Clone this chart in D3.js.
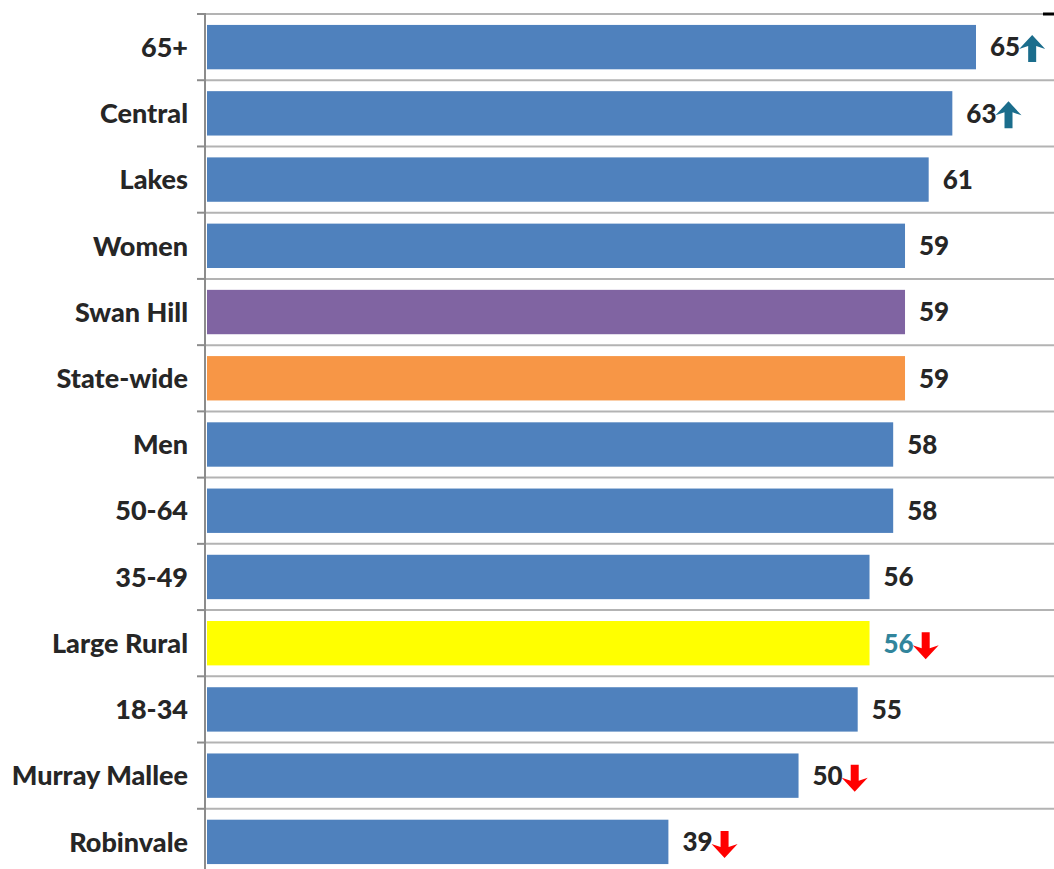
<!DOCTYPE html>
<html>
<head>
<meta charset="utf-8">
<script src="https://cdn.jsdelivr.net/npm/d3@7"></script>
<style>
  body { margin: 0; background: #fff; }
  svg { display: block; }
</style>
</head>
<body>
<div id="chart"></div>
<script>
var margin = { top: 14, right: 0, bottom: 0, left: 206 },
    width = 1054 - margin.left - margin.right,
    height = 875 - margin.top - margin.bottom;

// chart data
const categories = ["65+", "Central", "Lakes", "Women", "Swan Hill", "State-wide", "Men",
    "50-64", "35-49", "Large Rural", "18-34", "Murray Mallee", "Robinvale"];
const values = [65, 63, 61, 59, 59, 59, 58, 58, 56, 56, 55, 50, 39];
// trend arrow per row: "up", "down" or ""
const trends = ["up", "up", "", "", "", "", "", "", "", "down", "", "down", "down"];
const barColors = {
    "Swan Hill": "#8064a2",
    "State-wide": "#f79646",
    "Large Rural": "#ffff00"
};

let svg = d3.select("#chart").append("svg")
    .attr("width", 1054)
    .attr("height", 869)
    .append("g")
    .attr("transform", "translate(" + margin.left + "," + margin.top + ")")

let x = d3.scaleLinear()
    .domain([0, 65])
    .range([0, 769]);

let y = d3.scaleBand()
    .domain(categories)
    .range([0, height])
    .paddingInner(0.33)
    .paddingOuter(0.165);

// horizontal gridlines at category boundaries
let step = y.step();
let lines = d3.range(categories.length + 1).map(i => i * step);

svg.append("g")
    .selectAll("line")
    .data(lines)
    .enter()
    .append("line")
    .attr("x1", 0)
    .attr("x2", width)
    .attr("y1", d => d)
    .attr("y2", d => d)
    .attr("stroke", "#b3b3b3")
    .attr("stroke-width", 2)

// left ticks
svg.append("g")
    .selectAll("line")
    .data(lines)
    .enter()
    .append("line")
    .attr("x1", -9)
    .attr("x2", 0)
    .attr("y1", d => d)
    .attr("y2", d => d)
    .attr("stroke", "#8c8c8c")
    .attr("stroke-width", 2)

// axis line
svg.append("line")
    .attr("x1", -1).attr("x2", -1)
    .attr("y1", 0).attr("y2", height)
    .attr("stroke", "#8c8c8c")
    .attr("stroke-width", 2)

// little black tick top right
svg.append("line")
    .attr("x1", width - 11).attr("x2", width)
    .attr("y1", 0).attr("y2", 0)
    .attr("stroke", "#000")
    .attr("stroke-width", 3)

svg.append("g")
    .selectAll("rect")
    .data(values)
    .enter()
    .append("rect")
    .attr("x", x(0) + 1)
    .attr("y", (d, i) => y(categories[i]))
    .attr("width", d => x(d) - x(0))
    .attr("height", y.bandwidth())
    .attr("fill", (d, i) => barColors[categories[i]] || "#4f81bd")

// category labels
svg.append("g")
    .selectAll("text")
    .data(categories)
    .enter()
    .append("text")
    .attr("x", -18)
    .attr("y", d => y(d) + y.bandwidth() / 2)
    .attr("dy", "0.36em")
    .attr("text-anchor", "end")
    .style("font-family", "Lato, 'Open Sans', sans-serif")
    .style("font-weight", "900")
    .style("font-size", "27px")
    .style("fill", "#262626")
    .text(d => d)

// value labels
let valueText = svg.append("g")
    .selectAll("text")
    .data(values)
    .enter()
    .append("text")
    .attr("x", d => x(d) + 15)
    .attr("y", (d, i) => y(categories[i]) + y.bandwidth() / 2)
    .attr("dy", "0.36em")
    .style("font-family", "Lato, 'Open Sans', sans-serif")
    .style("font-weight", "900")
    .style("font-size", "26px")
    .style("fill", (d, i) => categories[i] == "Large Rural" ? "#31859c" : "#262626")
    .text(d => d)

// trend arrows
const upPath = "M0,-14 L13,0 L4,-3 L4,13 L-4,13 L-4,-3 L-13,0 Z";
valueText.each(function(d, i) {
    if (!trends[i]) return;
    let bb = this.getBBox();
    let cx = bb.x + bb.width + 12;
    let cy = y(categories[i]) + y.bandwidth() / 2 + 2;
    svg.append("path")
        .attr("d", upPath)
        .attr("transform", "translate(" + cx + "," + cy + ")" + (trends[i] == "down" ? " rotate(180)" : ""))
        .attr("fill", trends[i] == "up" ? "#1b6d8c" : "#ff0000")
})
</script>
</body>
</html>
